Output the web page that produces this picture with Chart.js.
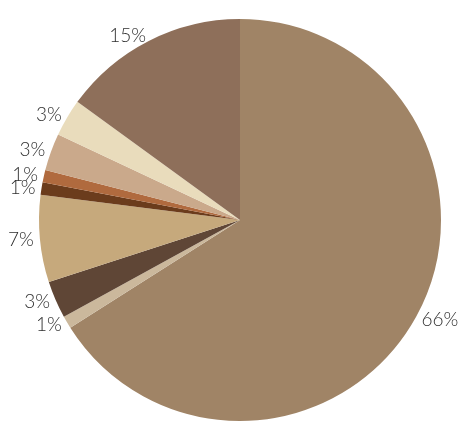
<!DOCTYPE html>
<html>
<head>
<meta charset="utf-8">
<script src="https://cdn.jsdelivr.net/npm/chart.js@4"></script>
<style>
  html, body { margin: 0; padding: 0; background: #fff; }
  #wrap { width: 461px; height: 424px; }
</style>
</head>
<body>
<div id="wrap"><canvas id="chart" width="461" height="424"></canvas></div>
<script>
// slices clockwise from 12 o'clock
const shares = [66, 1, 3, 7, 1, 1, 3, 3, 15];
const shareLabels = ['66%', '1%', '3%', '7%', '1%', '1%', '3%', '3%', '15%'];
const sliceColors = ['#a08466', '#cbb89c', '#5f4636', '#c6a97c', '#6b3c1c', '#b06a3e', '#caa98b', '#e9dcbc', '#8e6f5a'];

// draw the percent labels just outside the rim
const outsideLabels = {
  id: 'outsideLabels',
  afterDatasetsDraw(chart) {
    const ctx = chart.ctx;
    const arcs = chart.getDatasetMeta(0).data;
    ctx.save();
    ctx.font = '300 19px Lato';
    ctx.fillStyle = '#2e2e2e';
    ctx.textBaseline = 'middle';
    arcs.forEach(function(arc, i) {
      const mid = (arc.startAngle + arc.endAngle) / 2;
      const c = Math.cos(mid);
      const align = c < -0.2 ? 'right' : (c > 0.2 ? 'left' : 'center');
      const r = arc.outerRadius + (align === 'center' ? 18 : 6);
      const x = arc.x + c * r;
      const y = arc.y + Math.sin(mid) * r;
      ctx.textAlign = align;
      ctx.fillText(shareLabels[i], x, y);
    });
    ctx.restore();
  }
};

const canvas = document.getElementById('chart');
const ctx = canvas.getContext('2d');

new Chart(ctx, {
  type: 'pie',
  data: {
    labels: shareLabels,
    datasets: [{
      data: shares,
      backgroundColor: sliceColors,
      borderWidth: 0
    }]
  },
  options: {
    responsive: false,
    animation: false,
    layout: { padding: { left: 39, right: 20, top: 19, bottom: 3 } },
    plugins: {
      legend: { display: false },
      tooltip: { enabled: false }
    }
  },
  plugins: [outsideLabels]
});
</script>
</body>
</html>
